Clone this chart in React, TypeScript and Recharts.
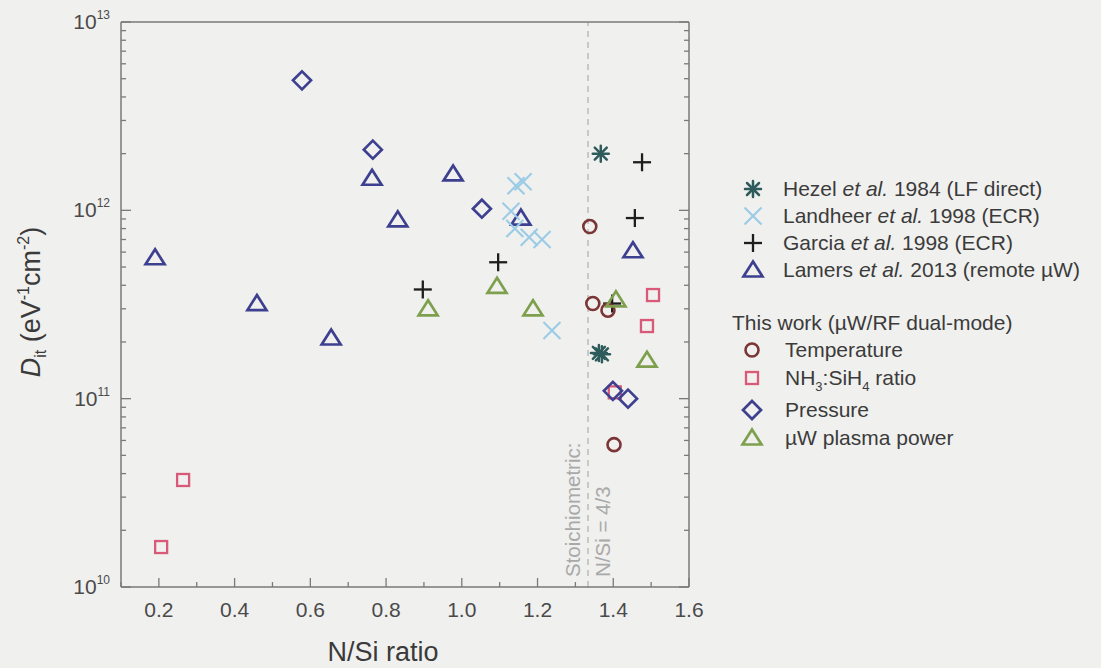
import React from 'react';
import { ScatterChart, Scatter, XAxis, YAxis, ReferenceLine, Legend, Customized } from 'recharts';

// N/Si ratio vs. interface defect density D_it
const hezel = [
  { ratio: 1.367, dit: 2.0e12 },
  { ratio: 1.362, dit: 1.75e11 },
  { ratio: 1.37, dit: 1.72e11 },
];

const landheer = [
  { ratio: 1.143, dit: 1.35e12 },
  { ratio: 1.162, dit: 1.42e12 },
  { ratio: 1.13, dit: 9.9e11 },
  { ratio: 1.14, dit: 8.0e11 },
  { ratio: 1.178, dit: 7.2e11 },
  { ratio: 1.212, dit: 7.0e11 },
  { ratio: 1.238, dit: 2.3e11 },
];

const garcia = [
  { ratio: 0.897, dit: 3.8e11 },
  { ratio: 1.096, dit: 5.3e11 },
  { ratio: 1.476, dit: 1.8e12 },
  { ratio: 1.457, dit: 9.1e11 },
  { ratio: 1.397, dit: 3.2e11 },
];

const lamers = [
  { ratio: 0.19, dit: 5.6e11 },
  { ratio: 0.459, dit: 3.2e11 },
  { ratio: 0.655, dit: 2.1e11 },
  { ratio: 0.763, dit: 1.48e12 },
  { ratio: 0.831, dit: 8.9e11 },
  { ratio: 0.977, dit: 1.56e12 },
  { ratio: 1.156, dit: 9.1e11 },
  { ratio: 1.452, dit: 6.1e11 },
];

const temperature = [
  { ratio: 1.338, dit: 8.2e11 },
  { ratio: 1.346, dit: 3.2e11 },
  { ratio: 1.386, dit: 2.95e11 },
  { ratio: 1.402, dit: 5.7e10 },
];

const nh3Ratio = [
  { ratio: 0.206, dit: 1.63e10 },
  { ratio: 0.264, dit: 3.7e10 },
  { ratio: 1.505, dit: 3.55e11 },
  { ratio: 1.489, dit: 2.43e11 },
  { ratio: 1.404, dit: 1.08e11 },
];

const pressure = [
  { ratio: 0.578, dit: 4.9e12 },
  { ratio: 0.765, dit: 2.1e12 },
  { ratio: 1.053, dit: 1.02e12 },
  { ratio: 1.399, dit: 1.1e11 },
  { ratio: 1.439, dit: 1.0e11 },
];

const plasmaPower = [
  { ratio: 0.911, dit: 3.0e11 },
  { ratio: 1.093, dit: 3.95e11 },
  { ratio: 1.188, dit: 3.0e11 },
  { ratio: 1.407, dit: 3.35e11 },
  { ratio: 1.489, dit: 1.6e11 },
];

const xMajor = [0.2, 0.4, 0.6, 0.8, 1.0, 1.2, 1.4, 1.6];
const xMinor = [0.1, 0.3, 0.5, 0.7, 0.9, 1.1, 1.3, 1.5];
const yDecades = [1e10, 1e11, 1e12, 1e13];
const yExponents = ['10', '11', '12', '13'];
const yMinor = [1e10, 1e11, 1e12].flatMap((d) => [2, 3, 4, 5, 6, 7, 8, 9].map((m) => m * d));

const stoichiometric = 4 / 3;
const MU = '\u00b5';

const FONT = '"Liberation Sans", Arial, Helvetica, sans-serif';
const AXIS = '#7a7a7a';
const C = {
  navy: '#3d3f8f',
  green: '#7ea04e',
  pink: '#d95a78',
  maroon: '#7b3535',
  teal: '#2e5c5c',
  light: '#9ccbe6',
  plus: '#1e1e1e',
};

type Kind = 'asterisk' | 'x' | 'plus' | 'triangle' | 'diamond' | 'circle' | 'square';

const Mark = ({ kind, color, cx, cy }: { kind: Kind; color: string; cx: number; cy: number }) => {
  const sw = 2.5;
  switch (kind) {
    case 'asterisk':
      return (
        <g stroke={color} strokeWidth={2.5} strokeLinecap="round">
          <line x1={cx - 8} y1={cy} x2={cx + 8} y2={cy} />
          <line x1={cx} y1={cy - 8} x2={cx} y2={cy + 8} />
          <line x1={cx - 6} y1={cy - 6} x2={cx + 6} y2={cy + 6} />
          <line x1={cx - 6} y1={cy + 6} x2={cx + 6} y2={cy - 6} />
        </g>
      );
    case 'x':
      return (
        <g stroke={color} strokeWidth={2.1}>
          <line x1={cx - 8.5} y1={cy - 8.5} x2={cx + 8.5} y2={cy + 8.5} />
          <line x1={cx - 8.5} y1={cy + 8.5} x2={cx + 8.5} y2={cy - 8.5} />
        </g>
      );
    case 'plus':
      return (
        <g stroke={color} strokeWidth={2.3}>
          <line x1={cx - 9} y1={cy} x2={cx + 9} y2={cy} />
          <line x1={cx} y1={cy - 9} x2={cx} y2={cy + 9} />
        </g>
      );
    case 'triangle':
      return (
        <polygon
          points={`${cx},${cy - 8.5} ${cx + 9.5},${cy + 6.5} ${cx - 9.5},${cy + 6.5}`}
          fill="none"
          stroke={color}
          strokeWidth={sw + 0.2}
        />
      );
    case 'diamond':
      return (
        <polygon
          points={`${cx},${cy - 9} ${cx + 9},${cy} ${cx},${cy + 9} ${cx - 9},${cy}`}
          fill="none"
          stroke={color}
          strokeWidth={sw + 0.2}
        />
      );
    case 'circle':
      return <circle cx={cx} cy={cy} r={6.5} fill="none" stroke={color} strokeWidth={sw + 0.1} />;
    default:
      return <rect x={cx - 6} y={cy - 6} width={12} height={12} fill="none" stroke={color} strokeWidth={sw - 0.2} />;
  }
};

const marker = (kind: Kind, color: string) => (p: any) => <Mark kind={kind} color={color} cx={p.cx} cy={p.cy} />;

const tickColor = '#4a4a4a';

const BottomTick = (p: any) => {
  const v = p.payload.value;
  const major = xMajor.includes(v);
  return (
    <g>
      <line x1={p.x} y1={p.y} x2={p.x} y2={p.y - (major ? 9 : 5)} stroke={AXIS} strokeWidth={1.3} />
      {major && (
        <text x={p.x} y={p.y + 30} textAnchor="middle" fontSize={21} fill={tickColor} fontFamily={FONT}>
          {v.toFixed(1)}
        </text>
      )}
    </g>
  );
};

const TopTick = (p: any) => {
  const major = xMajor.includes(p.payload.value);
  return <line x1={p.x} y1={p.y} x2={p.x} y2={p.y + (major ? 9 : 5)} stroke={AXIS} strokeWidth={1.3} />;
};

const LeftTick = (p: any) => {
  const v = p.payload.value;
  const idx = yDecades.indexOf(v);
  const major = idx >= 0;
  return (
    <g>
      <line x1={p.x} y1={p.y} x2={p.x + (major ? 10 : 5)} y2={p.y} stroke={AXIS} strokeWidth={1.3} />
      {major && (
        <text x={p.x - 11} y={p.y + 7} textAnchor="end" fontSize={21} fill={tickColor} fontFamily={FONT}>
          10
          <tspan fontSize={12} dy={-10}>
            {yExponents[idx]}
          </tspan>
        </text>
      )}
    </g>
  );
};

const RightTick = (p: any) => {
  const major = yDecades.includes(p.payload.value);
  return <line x1={p.x} y1={p.y} x2={p.x - (major ? 10 : 5)} y2={p.y} stroke={AXIS} strokeWidth={1.3} />;
};

const Titles = () => (
  <g fontFamily={FONT}>
    <text x={383} y={661} textAnchor="middle" fontSize={27} fill="#3a3a3a">
      N/Si ratio
    </text>
    <text transform="translate(40,302) rotate(-90)" textAnchor="middle" fontSize={27} fill="#3a3a3a">
      <tspan fontStyle="italic">D</tspan>
      <tspan fontSize={16} dy={6}>it</tspan>
      <tspan dy={-6}> (eV</tspan>
      <tspan fontSize={16} dy={-11}>-1</tspan>
      <tspan dy={11}>cm</tspan>
      <tspan fontSize={16} dy={-11}>-2</tspan>
      <tspan dy={11}>)</tspan>
    </text>
    <text transform="translate(580,577) rotate(-90)" fontSize={20.5} fill="#a9a9a9">
      Stoichiometric:
    </text>
    <text transform="translate(610,577) rotate(-90)" fontSize={20.5} fill="#a9a9a9">
      N/Si = 4/3
    </text>
  </g>
);

const legendText = '#3b3b3b';

const KeyLegend = () => {
  const refs: { y: number; kind: Kind; color: string; name: string; year: string }[] = [
    { y: 29, kind: 'asterisk', color: C.teal, name: 'Hezel', year: ' 1984 (LF direct)' },
    { y: 56, kind: 'x', color: C.light, name: 'Landheer', year: ' 1998 (ECR)' },
    { y: 83, kind: 'plus', color: C.plus, name: 'Garcia', year: ' 1998 (ECR)' },
    { y: 110, kind: 'triangle', color: C.navy, name: 'Lamers', year: ` 2013 (remote ${MU}W)` },
  ];
  const work: { y: number; kind: Kind; color: string }[] = [
    { y: 190, kind: 'circle', color: C.maroon },
    { y: 218, kind: 'square', color: C.pink },
    { y: 250, kind: 'diamond', color: C.navy },
    { y: 278, kind: 'triangle', color: C.green },
  ];
  return (
    <svg width={380} height={300} style={{ display: 'block', fontFamily: FONT }}>
      {refs.map((r) => (
        <g key={r.name}>
          <Mark kind={r.kind} color={r.color} cx={33} cy={r.y} />
          <text x={63} y={r.y + 7} fontSize={21} fill={legendText}>
            {r.name} <tspan fontStyle="italic">et al.</tspan>
            {r.year}
          </text>
        </g>
      ))}
      <text x={12} y={170} fontSize={21} fill={legendText}>
        {`This work (${MU}W/RF dual-mode)`}
      </text>
      {work.map((w) => (
        <Mark key={w.y} kind={w.kind} color={w.color} cx={32} cy={w.y} />
      ))}
      <text x={65} y={197} fontSize={21} fill={legendText}>Temperature</text>
      <text x={65} y={225} fontSize={21} fill={legendText}>
        NH<tspan fontSize={13} dy={6}>3</tspan>
        <tspan dy={-6}>:SiH</tspan>
        <tspan fontSize={13} dy={6}>4</tspan>
        <tspan dy={-6}> ratio</tspan>
      </text>
      <text x={65} y={257} fontSize={21} fill={legendText}>Pressure</text>
      <text x={65} y={285} fontSize={21} fill={legendText}>{`${MU}W plasma power`}</text>
    </svg>
  );
};

const xTicks = [...xMinor, ...xMajor].sort((a, b) => a - b);
const yTicks = [...yDecades, ...yMinor].sort((a, b) => a - b);

export default function App() {
  return (
    <div style={{ position: 'absolute', left: 0, top: 0, width: 1101, height: 668, background: '#f0f0ee' }}>
      <ScatterChart width={1101} height={668} margin={{ top: 21, right: 411, bottom: 80, left: 120 }}>
        <XAxis
          xAxisId={0}
          type="number"
          dataKey="ratio"
          domain={[0.1, 1.6]}
          ticks={xTicks}
          interval={0}
          height={1}
          tickSize={0}
          tickMargin={0}
          tick={BottomTick}
          axisLine={{ stroke: AXIS, strokeWidth: 1.5 }}
          allowDataOverflow
        />
        <XAxis
          xAxisId="top"
          orientation="top"
          type="number"
          domain={[0.1, 1.6]}
          ticks={xTicks}
          interval={0}
          height={1}
          tickSize={0}
          tickMargin={0}
          tick={TopTick}
          axisLine={{ stroke: AXIS, strokeWidth: 1.5 }}
          allowDataOverflow
        />
        <YAxis
          yAxisId={0}
          type="number"
          dataKey="dit"
          scale="log"
          domain={[1e10, 1e13]}
          ticks={yTicks}
          interval={0}
          width={1}
          tickSize={0}
          tickMargin={0}
          tick={LeftTick}
          axisLine={{ stroke: AXIS, strokeWidth: 1.5 }}
          allowDataOverflow
        />
        <YAxis
          yAxisId="right"
          orientation="right"
          type="number"
          scale="log"
          domain={[1e10, 1e13]}
          ticks={yTicks}
          interval={0}
          width={1}
          tickSize={0}
          tickMargin={0}
          tick={RightTick}
          axisLine={{ stroke: AXIS, strokeWidth: 1.5 }}
          allowDataOverflow
        />
        <ReferenceLine x={stoichiometric} stroke="#b4b4b4" strokeWidth={1.3} strokeDasharray="6 5" />
        <Scatter name="Lamers" data={lamers} shape={marker('triangle', C.navy)} isAnimationActive={false} />
        <Scatter name="Garcia" data={garcia} shape={marker('plus', C.plus)} isAnimationActive={false} />
        <Scatter name="Landheer" data={landheer} shape={marker('x', C.light)} isAnimationActive={false} />
        <Scatter name="Hezel" data={hezel} shape={marker('asterisk', C.teal)} isAnimationActive={false} />
        <Scatter name="Temperature" data={temperature} shape={marker('circle', C.maroon)} isAnimationActive={false} />
        <Scatter name="NH3:SiH4 ratio" data={nh3Ratio} shape={marker('square', C.pink)} isAnimationActive={false} />
        <Scatter name="Pressure" data={pressure} shape={marker('diamond', C.navy)} isAnimationActive={false} />
        <Scatter name="uW plasma power" data={plasmaPower} shape={marker('triangle', C.green)} isAnimationActive={false} />
        <Customized component={<Titles />} />
        <Legend
          layout="vertical"
          align="center"
          verticalAlign="middle"
          content={() => <KeyLegend />}
          wrapperStyle={{ left: 720, top: 160, width: 380, height: 300 }}
        />
      </ScatterChart>
    </div>
  );
}
